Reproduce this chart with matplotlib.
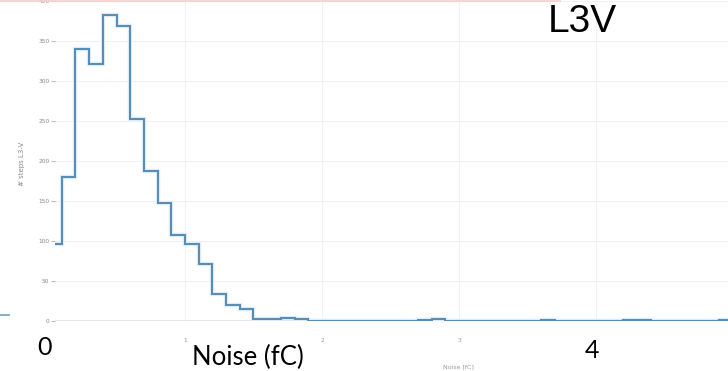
import numpy as np
import matplotlib.pyplot as plt

# histogram of noise per channel, 0.1 fC bins starting at 0
bin_width = 0.1
counts = [96, 180, 340, 321, 382, 369, 252, 188, 148, 107,
          96, 71, 34, 20, 15, 2, 2, 4, 2, 0,
          0, 0, 0, 0, 0, 0, 0, 1, 2, 0,
          0, 0, 0, 0, 0, 0, 1, 0, 0, 0,
          0, 0, 1, 1, 0, 0, 0, 0, 0, 1]
edges = np.arange(len(counts) + 1) * bin_width

y_ticks = [0, 50, 100, 150, 200, 250, 300, 350, 400]
x_ticks = [1, 2, 3, 4]
x_tick_labels = ["1", "2", "3", ""]

fig = plt.figure(figsize=(7.28, 3.71), dpi=100)
ax = fig.add_axes([55 / 728, 1 - 321 / 371, 1 - 55 / 728, 320 / 371])

ax.stairs(counts, edges, color="#e2f1fb", lw=3.2, zorder=2)
ax.stairs(counts, edges, color="#5a8db5", lw=1.5, zorder=3)
ax.axhline(0, color="#8c8c8c", lw=1.0, zorder=1)

ax.set_xlim(0.051, 4.964)
ax.set_ylim(0, 400)
ax.set_xticks(x_ticks)
ax.set_xticklabels(x_tick_labels)
ax.set_yticks(y_ticks)
ax.grid(True, color="#f1f1f1", lw=0.8)
ax.set_axisbelow(True)
for s in ax.spines.values():
    s.set_visible(False)
ax.tick_params(axis="y", length=3, width=0.6, color="#aaaaaa",
               labelsize=4.2, labelcolor="#888888", pad=1)
ax.tick_params(axis="x", length=0, labelsize=4.2, labelcolor="#999999", pad=12)
ax.set_ylabel("# steps L3-V", fontsize=5, color="#888888", labelpad=6)
ax.yaxis.set_label_coords(-30 / 673, 0.49)
ax.set_xlabel("Noise [fC]", fontsize=4.5, color="#999999")
ax.xaxis.set_label_coords((458 - 55) / 673, -43 / 320)

# slide annotations on top of the plot
fig.text(45 / 728, 1 - 355 / 371, "0", fontsize=18, family="Lato",
         ha="center", va="baseline")
fig.text(248 / 728, 1 - 365 / 371, "Noise (fC)", fontsize=18.5, family="Lato",
         ha="center", va="baseline")
fig.text(592 / 728, 1 - 358 / 371, "4", fontsize=18, family="Lato",
         ha="center", va="baseline")
fig.text(582 / 728, 1 - 32 / 371, "L3V", fontsize=28,
         family="Liberation Sans", ha="center", va="baseline")

# slide edge remnants
fig.add_artist(plt.Line2D([0, 560 / 728], [1 - 0.5 / 371] * 2,
                          color="#f6cfc9", lw=1.2))
fig.add_artist(plt.Line2D([0, 9 / 728], [1 - 315 / 371] * 2,
                          color="#6d9fc2", lw=1.2))

fig.savefig("out.png", dpi=100)
